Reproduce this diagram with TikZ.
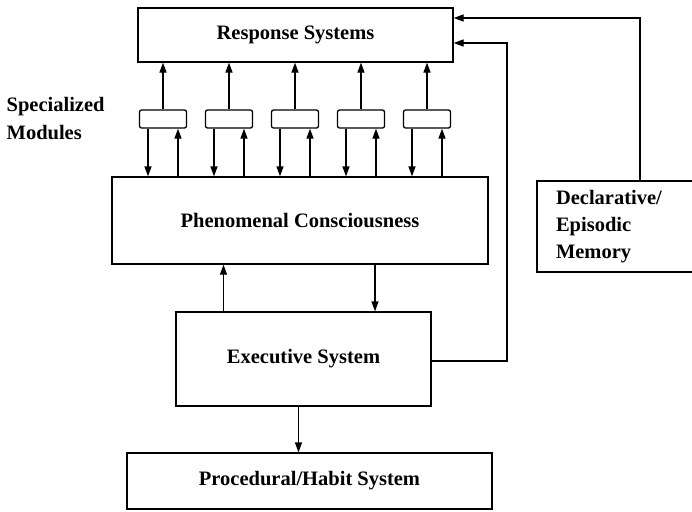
\documentclass[tikz,border=0pt]{standalone}
\usepackage{fontspec}
\setmainfont{Liberation Serif}
\usepackage{tikz}
\usetikzlibrary{positioning,arrows.meta,calc}

\begin{document}
\begin{tikzpicture}[x=1pt,y=-1pt,font=\fontsize{20.5}{25}\selectfont\bfseries,line width=1.3pt,
  sysbox/.style={draw,line width=1.3pt,inner sep=0pt,align=center},
  modbox/.style={draw,line width=1.3pt,rounded corners=2pt,minimum width=47pt,minimum height=18pt,inner sep=0pt},
  ar/.style={-{Triangle[length=10pt,width=7pt]},line width=1.3pt}]
\clip (0,0) rectangle (692,511);
\node[sysbox,minimum width=315pt,minimum height=54pt] (resp) at (295.5,35) {Response Systems};
\node[sysbox,minimum width=376pt,minimum height=87pt] (phen) at (300,220.5) {Phenomenal Consciousness};
\node[sysbox,minimum width=255pt,minimum height=94pt] (exec) at (303.5,359) {Executive System};
\node[sysbox,minimum width=365pt,minimum height=56pt] (proc) at (309.5,481) {Procedural/Habit System};
\node[sysbox,minimum width=158pt,minimum height=91pt,text width=120pt,align=left,
  font=\fontsize{20.5}{27}\selectfont\bfseries] (mem) at (616,226.5) {Declarative/\\Episodic\\Memory};
\node[anchor=west,align=left,inner sep=0pt,font=\fontsize{20.5}{28}\selectfont\bfseries] (lbl) at (6,119) {Specialized\\Modules};
% five specialized modules between phenomenal consciousness and response systems
\foreach \i in {1,...,5}{
  \node[modbox] (m\i) at ({97+66*\i},119) {};
  \draw[ar] (m\i.north) -- (m\i.north |- resp.south);
  \draw[ar] ([xshift=-15pt]m\i.south) -- ([xshift=-15pt]m\i.south |- phen.north);
  \draw[ar] ([xshift=15pt]m\i.south |- phen.north) -- ([xshift=15pt]m\i.south);
}
\draw[ar] ([xshift=-80pt]exec.north) -- ([xshift=-80pt]exec.north |- phen.south);
\draw[ar] ([xshift=71.5pt]exec.north |- phen.south) -- ([xshift=71.5pt]exec.north);
\draw[ar] ([xshift=-5pt]exec.south) -- ([xshift=-5pt]exec.south |- proc.north);
\coordinate (bus) at (507,0);
\draw[ar] ([yshift=-2pt]exec.east) -| ([yshift=-8pt]resp.east -| bus) -- ([yshift=-8pt]resp.east);
\draw[ar] ([xshift=24pt]mem.north) |- ([yshift=17pt]resp.east);
\end{tikzpicture}
\end{document}
